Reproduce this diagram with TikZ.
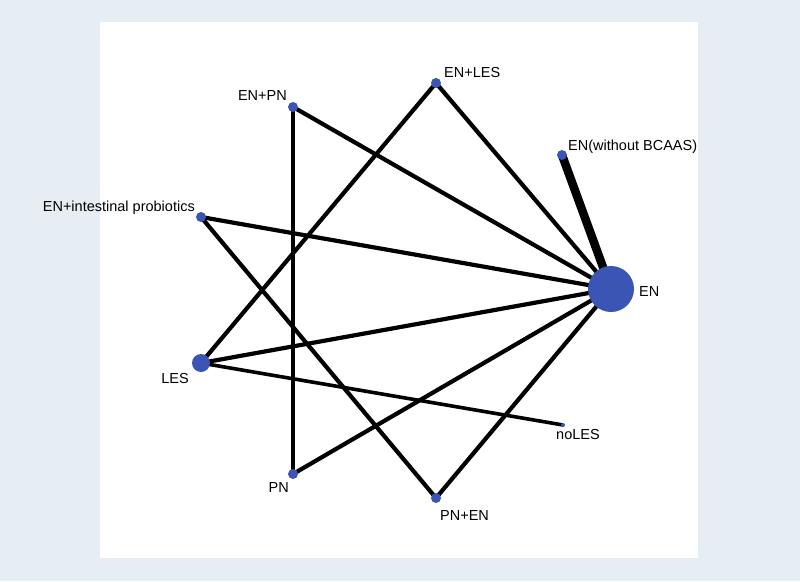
\documentclass[tikz,border=0pt]{standalone}
\usepackage{fontspec}
\setmainfont{Liberation Sans}
\definecolor{bgc}{HTML}{E6EEF3}
\definecolor{dotc}{HTML}{3A55B4}
\begin{document}
\begin{tikzpicture}[x=1pt,y=-1pt,
  dot/.style={circle,fill=dotc,inner sep=0pt,minimum size=#1},
  edge/.style={line width=4.2pt},
  lab/.style={font=\fontsize{14.5}{16}\selectfont,inner sep=1pt}]
\fill[bgc] (0,0) rectangle (800,581);
\fill[white] (100,22) rectangle (698,558);
\useasboundingbox (0,0) rectangle (800,581);
\coordinate (EN) at (611,289);
\coordinate (ENw) at (562,155);
\coordinate (ENLES) at (436,83);
\coordinate (ENPN) at (293,107);
\coordinate (ENip) at (201,217);
\coordinate (LES) at (201,363);
\coordinate (noLES) at (563,425);
\coordinate (PN) at (293,474);
\coordinate (PNEN) at (436,498);
\draw[line width=8.5pt] (EN) -- (ENw);
\foreach \n in {ENLES,ENPN,ENip,LES,PN,PNEN} \draw[edge] (EN) -- (\n);
\draw[edge] (ENPN) -- (PN);
\draw[edge] (ENLES) -- (LES);
\draw[edge] (ENip) -- (PNEN);
\draw[line width=3.6pt] (LES) -- (noLES);
\node[dot=46pt] (nEN) at (EN) {};
\node[dot=10pt] (nENw) at (ENw) {};
\node[dot=10pt] (nENLES) at (ENLES) {};
\node[dot=10pt] (nENPN) at (ENPN) {};
\node[dot=10pt] (nENip) at (ENip) {};
\node[dot=18pt] (nLES) at (LES) {};
\node[dot=4pt] (nnoLES) at (noLES) {};
\node[dot=10pt] (nPN) at (PN) {};
\node[dot=10pt] (nPNEN) at (PNEN) {};
\node[lab,anchor=west] (tEN) at (638,292) {EN};
\node[lab,anchor=west] (tENw) at (567,147) {EN(without BCAAS)};
\node[lab,anchor=west] (tENLES) at (443,73) {EN+LES};
\node[lab,anchor=east] (tENPN) at (288,96) {EN+PN};
\node[lab,anchor=east] (tENip) at (196,208) {EN+intestinal probiotics};
\node[lab,anchor=east] (tLES) at (190,379) {LES};
\node[lab,anchor=west] (tnoLES) at (555,435) {noLES};
\node[lab,anchor=east] (tPN) at (290,488) {PN};
\node[lab,anchor=west] (tPNEN) at (439,516) {PN+EN};
\end{tikzpicture}
\end{document}
